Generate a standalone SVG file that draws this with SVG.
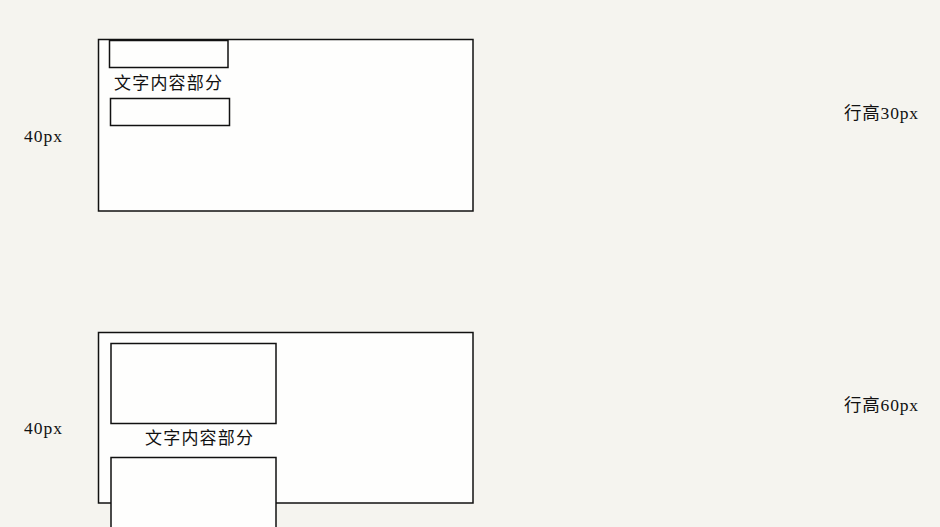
<svg xmlns="http://www.w3.org/2000/svg" width="940" height="527" viewBox="0 0 940 527">
<style>
.outer{fill:#fefefd;stroke:#111;stroke-width:1.5}
.inner{fill:#fefefd;stroke:#111;stroke-width:1.5}
.cn{font-family:"Noto Sans CJK SC","Noto Sans",sans-serif;font-size:17px;fill:#111}
.lbl{font-family:"Liberation Serif","Noto Sans CJK SC",serif;font-size:17.5px;fill:#111}
</style>
<rect x="0" y="0" width="940" height="527" fill="#f5f4ef"/>
<g id="box1">
<rect class="outer" x="98.5" y="39.5" width="374.5" height="171.5"/>
<rect class="inner" x="109.5" y="40.5" width="118.5" height="27"/>
<text class="cn" x="114" y="89" textLength="108">文字内容部分</text>
<rect class="inner" x="110.5" y="98.5" width="119" height="27"/>
</g>
<g id="box2">
<rect class="outer" x="98.5" y="332.5" width="374.5" height="170.5"/>
<rect class="inner" x="111" y="343.5" width="165" height="80"/>
<text class="cn" x="145" y="444" textLength="108">文字内容部分</text>
<rect class="inner" x="111" y="457.5" width="165" height="80"/>
</g>
<g id="labels">
<text class="lbl" x="24" y="142" textLength="38">40px</text>
<text class="lbl" x="24" y="434" textLength="38">40px</text>
<text class="lbl" x="844" y="119" textLength="74">行高30px</text>
<text class="lbl" x="844" y="411" textLength="74">行高60px</text>
</g>
<g id="connectors"/>
</svg>
